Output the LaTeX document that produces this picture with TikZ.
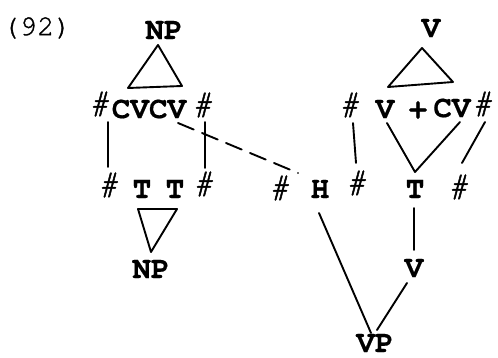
\documentclass[tikz,border=0pt]{standalone}
\usepackage{fontspec}
\newfontfamily\twb{texgyrecursor-bold.otf}[FakeBold=0.5]
\newfontfamily\twr{texgyrecursor-regular.otf}[FakeBold=1]
\newfontfamily\twh{texgyrecursor-regular.otf}[FakeBold=1.4]
\usetikzlibrary{calc}
\tikzset{
  lab/.style={inner sep=0pt, font=\twb\fontsize{31}{31}\selectfont},
  hs/.style={inner sep=0pt, font=\twh\fontsize{35}{35}\selectfont, xslant=0.2},
  ln/.style={line width=1.9pt, line cap=round, line join=round},
}
\begin{document}
\begin{tikzpicture}[x=1pt,y=-1pt]
\useasboundingbox[fill=white] (0,0) rectangle (498,358);
% number
\node[inner sep=0pt, font=\twr\fontsize{29}{29}\selectfont] (num) at (37,28) {(92)};
% left part
\node[lab] (np1) at (164,30) {NP};
\node[hs] (h1) at (101,104) {\#};
\node[lab] (cvcv) at (149,109) {CVCV};
\node[hs] (h2) at (204,105) {\#};
\node[hs] (h3) at (110,185) {\#};
\node[lab] (t1) at (142,189) {T};
\node[lab] (t2) at (175,189) {T};
\node[hs] (h4) at (205,184) {\#};
\node[lab] (np2) at (151,269) {NP};
% middle
\node[hs] (h5) at (281,188) {\#};
\node[lab] (hh) at (320,189) {H};
\node[hs] (h6) at (358,183) {\#};
% right part
\node[lab] (v1) at (431,28) {V};
\node[hs] (h7) at (351,105) {\#};
\node[lab] (v2) at (385,109) {V};
\node[lab] (plus) at (418,110) {+};
\node[lab] (cv) at (452,108) {CV};
\node[hs] (h8) at (484,104) {\#};
\node[lab] (t3) at (415,189) {T};
\node[hs] (h9) at (460,187) {\#};
\node[lab] (v3) at (414,268) {V};
\node[lab] (vp) at (375,343) {VP};
% connectors
\draw[ln] ($(np1)+(-6,15)$) -- ($(cvcv)+(-21,-21)$) -- ($(cvcv)+(33,-23)$) -- cycle;
\draw[ln] ($(h1)+(7,18)$) -- ($(h3)+(-2,-18)$);
\draw[ln] ($(h2)+(1,17)$) -- ($(h4)+(0,-16)$);
\draw[ln, dash pattern=on 17pt off 9pt] ($(cvcv)+(29,14)$) -- ($(h5)+(17,-15)$);
\draw[ln] ($(t1)+(-4,20)$) -- ($(t2)+(2,20)$) -- ($(np2)+(0,-17)$) -- cycle;
\draw[ln] ($(hh)+(-1,24)$) -- ($(vp)+(-4,-10)$);
\draw[ln] ($(v3)+(-7,15)$) -- ($(vp)+(2,-13)$);
\draw[ln] ($(t3)+(-1,19)$) -- ($(v3)+(0,-18)$);
\draw[ln] ($(v2)+(2,14)$) -- ($(t3)+(0,-17)$) -- ($(cv)+(8,14)$);
\draw[ln] ($(h7)+(2,18)$) -- ($(h6)+(-2,-20)$);
\draw[ln] ($(h8)+(1,18)$) -- ($(h9)+(2,-24)$);
\draw[ln] ($(v1)+(-9,20)$) -- ($(v2)+(3,-22)$) -- ($(cv)+(1,-26)$) -- cycle;
\end{tikzpicture}
\end{document}
